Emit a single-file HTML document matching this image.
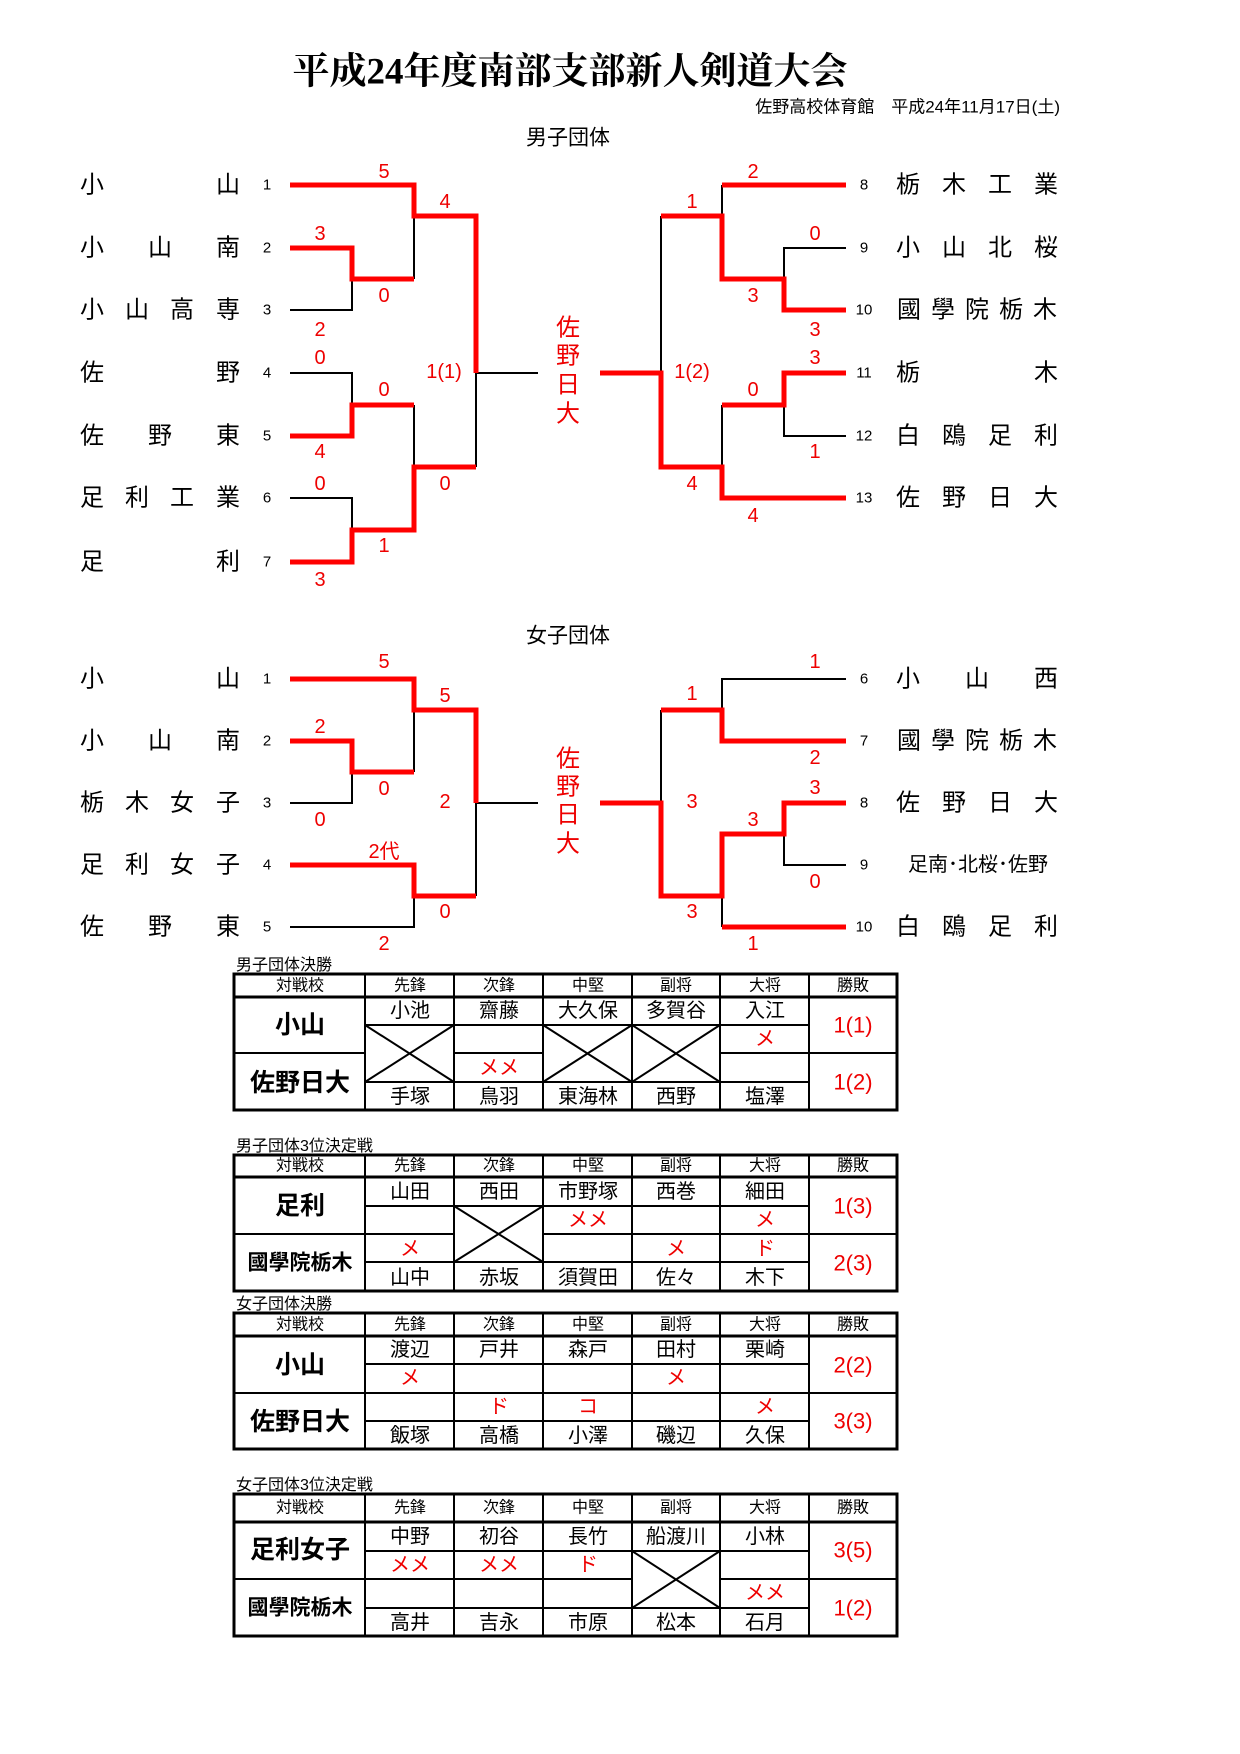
<!DOCTYPE html>
<html><head><meta charset="utf-8"><style>
html,body{margin:0;padding:0;background:#fff;}
svg{display:block;}
text{font-family:"Liberation Sans","Noto Sans CJK JP",sans-serif;}
.n{font-size:24px;fill:#000;text-anchor:middle;dominant-baseline:central;}
.no{font-size:15px;fill:#000;text-anchor:middle;dominant-baseline:central;}
.s{font-size:20px;fill:#e00;text-anchor:middle;dominant-baseline:central;}
.c{font-size:24px;fill:#e00;text-anchor:middle;dominant-baseline:central;}
.h{font-size:16px;text-anchor:middle;dominant-baseline:central;}
.m{font-size:20px;text-anchor:middle;dominant-baseline:central;}
.k{font-size:20px;fill:#e00;text-anchor:middle;dominant-baseline:central;}
.sc{font-size:25px;font-weight:bold;text-anchor:middle;dominant-baseline:central;}
.r{font-size:22px;fill:#e00;text-anchor:middle;dominant-baseline:central;}
.tt{font-size:16px;}
.R{stroke:#f00;stroke-width:5;fill:none;}
.B{stroke:#000;stroke-width:2;fill:none;}
.T{stroke:#000;stroke-width:2;fill:none;}
.O{stroke:#000;stroke-width:3;fill:none;}
</style></head><body>
<svg width="1240" height="1754" viewBox="0 0 1240 1754" xmlns="http://www.w3.org/2000/svg">
<text x="570" y="72" style="font-family:'Liberation Serif','Noto Serif CJK SC',serif;font-size:37px;font-weight:bold" text-anchor="middle" dominant-baseline="central">平成24年度南部支部新人剣道大会</text>
<text x="1060" y="107" style="font-size:17px" text-anchor="end" dominant-baseline="central">佐野高校体育館　平成24年11月17日(土)</text>
<text x="568" y="138" style="font-size:21px" text-anchor="middle" dominant-baseline="central">男子団体</text>
<text x="568" y="636" style="font-size:21px" text-anchor="middle" dominant-baseline="central">女子団体</text>

<g class="n">
<text x="92" y="185">小</text><text x="228" y="185">山</text>
<text x="92" y="248">小</text><text x="160" y="248">山</text><text x="228" y="248">南</text>
<text x="92" y="310">小</text><text x="137" y="310">山</text><text x="182" y="310">高</text><text x="228" y="310">専</text>
<text x="92" y="373">佐</text><text x="228" y="373">野</text>
<text x="92" y="436">佐</text><text x="160" y="436">野</text><text x="228" y="436">東</text>
<text x="92" y="498">足</text><text x="137" y="498">利</text><text x="182" y="498">工</text><text x="228" y="498">業</text>
<text x="92" y="562">足</text><text x="228" y="562">利</text>
<text x="908" y="185">栃</text><text x="954" y="185">木</text><text x="1000" y="185">工</text><text x="1046" y="185">業</text>
<text x="908" y="248">小</text><text x="954" y="248">山</text><text x="1000" y="248">北</text><text x="1046" y="248">桜</text>
<text x="909" y="310">國</text><text x="943" y="310">學</text><text x="977" y="310">院</text><text x="1011" y="310">栃</text><text x="1045" y="310">木</text>
<text x="908" y="373">栃</text><text x="1046" y="373">木</text>
<text x="908" y="436">白</text><text x="954" y="436">鴎</text><text x="1000" y="436">足</text><text x="1046" y="436">利</text>
<text x="908" y="498">佐</text><text x="954" y="498">野</text><text x="1000" y="498">日</text><text x="1046" y="498">大</text>
<text x="92" y="679">小</text><text x="228" y="679">山</text>
<text x="92" y="741">小</text><text x="160" y="741">山</text><text x="228" y="741">南</text>
<text x="92" y="803">栃</text><text x="137" y="803">木</text><text x="182" y="803">女</text><text x="228" y="803">子</text>
<text x="92" y="865">足</text><text x="137" y="865">利</text><text x="182" y="865">女</text><text x="228" y="865">子</text>
<text x="92" y="927">佐</text><text x="160" y="927">野</text><text x="228" y="927">東</text>
<text x="908" y="679">小</text><text x="977" y="679">山</text><text x="1046" y="679">西</text>
<text x="909" y="741">國</text><text x="943" y="741">學</text><text x="977" y="741">院</text><text x="1011" y="741">栃</text><text x="1045" y="741">木</text>
<text x="908" y="803">佐</text><text x="954" y="803">野</text><text x="1000" y="803">日</text><text x="1046" y="803">大</text>
<text x="908" y="927">白</text><text x="954" y="927">鴎</text><text x="1000" y="927">足</text><text x="1046" y="927">利</text>
</g>
<text x="978" y="865" style="font-size:20px" text-anchor="middle" dominant-baseline="central">足南･北桜･佐野</text>

<g class="no">
<text x="267" y="185">1</text><text x="267" y="248">2</text><text x="267" y="310">3</text><text x="267" y="373">4</text><text x="267" y="436">5</text><text x="267" y="498">6</text><text x="267" y="562">7</text>
<text x="864" y="185">8</text><text x="864" y="248">9</text><text x="864" y="310">10</text><text x="864" y="373">11</text><text x="864" y="436">12</text><text x="864" y="498">13</text>
<text x="267" y="679">1</text><text x="267" y="741">2</text><text x="267" y="803">3</text><text x="267" y="865">4</text><text x="267" y="927">5</text>
<text x="864" y="679">6</text><text x="864" y="741">7</text><text x="864" y="803">8</text><text x="864" y="865">9</text><text x="864" y="927">10</text>
</g>

<path class="B" d="M290,310 H352 V279 M414,216 V279 M290,373 H352 V405 M290,498 H352 V530 M414,405 V467 M476,373 V467 M476,373 H538"/>
<path class="R" d="M290,185 H414 V216 H476 V373 M290,248 H352 V279 H414 M290,436 H352 V405 H414 M290,562 H352 V530 H414 V467 H476"/>
<path class="B" d="M722,185 V216 M846,248 H784 V279 M846,436 H784 V405 M722,405 V467 M661,216 V373"/>
<path class="R" d="M722,185 H846 M846,310 H784 V279 H722 V216 H661 M846,373 H784 V405 H722 M846,498 H722 V467 H661 V373 H600"/>

<path class="B" d="M290,803 H352 V772 M414,710 V772 M290,927 H414 V896 M476,803 V896 M476,803 H538"/>
<path class="R" d="M290,679 H414 V710 H476 V803 M290,741 H352 V772 H414 M290,865 H414 V896 H476"/>
<path class="B" d="M846,679 H722 V710 M846,865 H784 V834 M722,896 V927 M661,710 V803"/>
<path class="R" d="M846,741 H722 V710 H661 M846,803 H784 V834 H722 V896 H661 V803 H600 M722,927 H846"/>

<g class="c">
<text x="568" y="328">佐</text><text x="568" y="356">野</text><text x="568" y="385">日</text><text x="568" y="414">大</text>
<text x="568" y="759">佐</text><text x="568" y="787">野</text><text x="568" y="815">日</text><text x="568" y="844">大</text>
</g>

<g class="s">
<text x="384" y="172">5</text><text x="445" y="202">4</text><text x="320" y="234">3</text><text x="384" y="296">0</text><text x="320" y="330">2</text>
<text x="320" y="358">0</text><text x="384" y="390">0</text><text x="320" y="452">4</text><text x="320" y="484">0</text><text x="384" y="546">1</text><text x="320" y="580">3</text><text x="445" y="484">0</text>
<text x="444" y="372">1(1)</text>
<text x="753" y="172">2</text><text x="692" y="202">1</text><text x="815" y="234">0</text><text x="753" y="296">3</text><text x="815" y="330">3</text>
<text x="815" y="358">3</text><text x="753" y="390">0</text><text x="815" y="452">1</text><text x="692" y="484">4</text><text x="753" y="516">4</text>
<text x="692" y="372">1(2)</text>
<text x="384" y="662">5</text><text x="445" y="696">5</text><text x="320" y="727">2</text><text x="384" y="789">0</text><text x="320" y="820">0</text>
<text x="384" y="852">2代</text><text x="445" y="802">2</text><text x="445" y="912">0</text><text x="384" y="944">2</text>
<text x="815" y="662">1</text><text x="692" y="694">1</text><text x="815" y="758">2</text><text x="815" y="788">3</text><text x="753" y="820">3</text>
<text x="815" y="882">0</text><text x="692" y="802">3</text><text x="692" y="912">3</text><text x="753" y="944">1</text>
</g>

<text class="tt" x="236" y="970">男子団体決勝</text>
<rect class="O" x="234" y="974" width="663" height="136"/>
<path class="O" d="M234,997 H897"/>
<path class="T" d="M365,974 V1110 M454,974 V1110 M543,974 V1110 M632,974 V1110 M720,974 V1110 M809,974 V1110 M365,1025 H809 M365,1082 H809 M234,1053 H365 M454,1053 H543 M720,1053 H897"/>
<path class="T" d="M365,1025 L454,1082 M454,1025 L365,1082 M543,1025 L632,1082 M632,1025 L543,1082 M632,1025 L720,1082 M720,1025 L632,1082"/>
<g class="h"><text x="300" y="986">対戦校</text><text x="410" y="986">先鋒</text><text x="499" y="986">次鋒</text><text x="588" y="986">中堅</text><text x="676" y="986">副将</text><text x="765" y="986">大将</text><text x="853" y="986">勝敗</text></g>
<g class="m"><text x="410" y="1011">小池</text><text x="499" y="1011">齋藤</text><text x="588" y="1011">大久保</text><text x="676" y="1011">多賀谷</text><text x="765" y="1011">入江</text>
<text x="410" y="1097">手塚</text><text x="499" y="1097">鳥羽</text><text x="588" y="1097">東海林</text><text x="676" y="1097">西野</text><text x="765" y="1097">塩澤</text></g>
<g class="k"><text x="765" y="1039">メ</text><text x="499" y="1068">メメ</text></g>
<g class="sc"><text x="300" y="1025">小山</text><text x="300" y="1083">佐野日大</text></g>
<g class="r"><text x="853" y="1025">1(1)</text><text x="853" y="1082">1(2)</text></g>

<text class="tt" x="236" y="1151">男子団体3位決定戦</text>
<rect class="O" x="234" y="1155" width="663" height="136"/>
<path class="O" d="M234,1177 H897"/>
<path class="T" d="M365,1155 V1291 M454,1155 V1291 M543,1155 V1291 M632,1155 V1291 M720,1155 V1291 M809,1155 V1291 M365,1206 H809 M365,1262 H809 M234,1234 H454 M543,1234 H897"/>
<path class="T" d="M454,1206 L543,1262 M543,1206 L454,1262"/>
<g class="h"><text x="300" y="1166">対戦校</text><text x="410" y="1166">先鋒</text><text x="499" y="1166">次鋒</text><text x="588" y="1166">中堅</text><text x="676" y="1166">副将</text><text x="765" y="1166">大将</text><text x="853" y="1166">勝敗</text></g>
<g class="m"><text x="410" y="1192">山田</text><text x="499" y="1192">西田</text><text x="588" y="1192">市野塚</text><text x="676" y="1192">西巻</text><text x="765" y="1192">細田</text>
<text x="410" y="1278">山中</text><text x="499" y="1278">赤坂</text><text x="588" y="1278">須賀田</text><text x="676" y="1278">佐々</text><text x="765" y="1278">木下</text></g>
<g class="k"><text x="588" y="1220">メメ</text><text x="765" y="1220">メ</text><text x="410" y="1249">メ</text><text x="676" y="1249">メ</text><text x="765" y="1249">ド</text></g>
<g class="sc"><text x="300" y="1206">足利</text><text x="300" y="1263" style="font-size:21px">國學院栃木</text></g>
<g class="r"><text x="853" y="1206">1(3)</text><text x="853" y="1263">2(3)</text></g>

<text class="tt" x="236" y="1309">女子団体決勝</text>
<rect class="O" x="234" y="1313" width="663" height="136"/>
<path class="O" d="M234,1336 H897"/>
<path class="T" d="M365,1313 V1449 M454,1313 V1449 M543,1313 V1449 M632,1313 V1449 M720,1313 V1449 M809,1313 V1449 M365,1364 H809 M365,1421 H809 M234,1393 H897"/>
<g class="h"><text x="300" y="1325">対戦校</text><text x="410" y="1325">先鋒</text><text x="499" y="1325">次鋒</text><text x="588" y="1325">中堅</text><text x="676" y="1325">副将</text><text x="765" y="1325">大将</text><text x="853" y="1325">勝敗</text></g>
<g class="m"><text x="410" y="1350">渡辺</text><text x="499" y="1350">戸井</text><text x="588" y="1350">森戸</text><text x="676" y="1350">田村</text><text x="765" y="1350">栗崎</text>
<text x="410" y="1436">飯塚</text><text x="499" y="1436">高橋</text><text x="588" y="1436">小澤</text><text x="676" y="1436">磯辺</text><text x="765" y="1436">久保</text></g>
<g class="k"><text x="410" y="1378">メ</text><text x="676" y="1378">メ</text><text x="499" y="1407">ド</text><text x="588" y="1407">コ</text><text x="765" y="1407">メ</text></g>
<g class="sc"><text x="300" y="1365">小山</text><text x="300" y="1422">佐野日大</text></g>
<g class="r"><text x="853" y="1365">2(2)</text><text x="853" y="1421">3(3)</text></g>

<text class="tt" x="236" y="1490">女子団体3位決定戦</text>
<rect class="O" x="234" y="1494" width="663" height="142"/>
<path class="O" d="M234,1522 H897"/>
<path class="T" d="M365,1494 V1636 M454,1494 V1636 M543,1494 V1636 M632,1494 V1636 M720,1494 V1636 M809,1494 V1636 M365,1551 H809 M365,1608 H809 M234,1579 H632 M720,1579 H897"/>
<path class="T" d="M632,1551 L720,1608 M720,1551 L632,1608"/>
<g class="h"><text x="300" y="1508">対戦校</text><text x="410" y="1508">先鋒</text><text x="499" y="1508">次鋒</text><text x="588" y="1508">中堅</text><text x="676" y="1508">副将</text><text x="765" y="1508">大将</text><text x="853" y="1508">勝敗</text></g>
<g class="m"><text x="410" y="1537">中野</text><text x="499" y="1537">初谷</text><text x="588" y="1537">長竹</text><text x="676" y="1537">船渡川</text><text x="765" y="1537">小林</text>
<text x="410" y="1623">高井</text><text x="499" y="1623">吉永</text><text x="588" y="1623">市原</text><text x="676" y="1623">松本</text><text x="765" y="1623">石月</text></g>
<g class="k"><text x="410" y="1565">メメ</text><text x="499" y="1565">メメ</text><text x="588" y="1565">ド</text><text x="765" y="1593">メメ</text></g>
<g class="sc"><text x="300" y="1550">足利女子</text><text x="300" y="1608" style="font-size:21px">國學院栃木</text></g>
<g class="r"><text x="853" y="1550">3(5)</text><text x="853" y="1608">1(2)</text></g>
</svg>
</body></html>
